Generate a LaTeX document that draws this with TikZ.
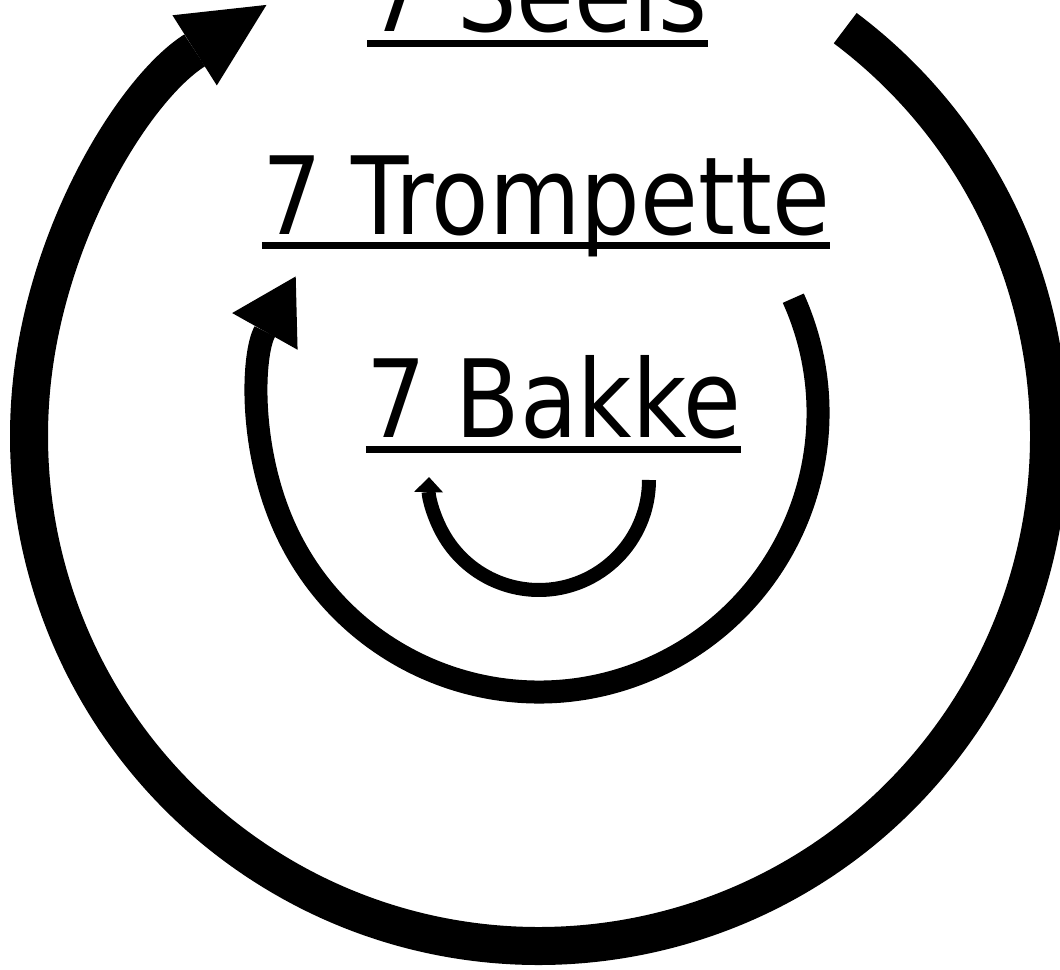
\documentclass[tikz,border=0pt]{standalone}
\usepackage{fontspec}
\setmainfont[FakeStretch=0.87]{DejaVu Sans}
\usetikzlibrary{arrows.meta}

\begin{document}
\begin{tikzpicture}[x=1pt,y=1pt,
  word/.style={inner sep=0pt,anchor=base,font=\fontsize{108}{130}\selectfont},
  uline/.style={line width=7pt}]
  \useasboundingbox (0,0) rectangle (1060,969);
  \draw[line width=38pt,-{Triangle[length=85pt,width=83pt,line width=0pt]}]
    (539,533) ++(53.1:510) arc[start angle=53.1,end angle=-237.7,radius=510];
  \draw[line width=23pt,-{Triangle[length=63pt,width=75pt,line width=0pt]}]
    (539,556) ++(24.3:279) arc[start angle=24.3,end angle=-209.3,radius=279];
  \draw[line width=14pt,-{Triangle[length=15pt,width=29pt,line width=0pt]}]
    (539,489) ++(0:110) arc[start angle=0,end angle=-181.5,radius=110];
  \node[word] (seels) at (537.5,937) {7 Seels};
  \node[word] (trompette) at (546,734) {7 Trompette};
  \node[word] (bakke) at (553.5,531) {7 Bakke};
  \draw[uline] ([yshift=-11.5pt]seels.base west) -- ([yshift=-11.5pt]seels.base east);
  \draw[uline] ([yshift=-11pt]trompette.base west) -- ([yshift=-11pt]trompette.base east);
  \draw[uline] ([yshift=-11.5pt]bakke.base west) -- ([yshift=-11.5pt]bakke.base east);
\end{tikzpicture}
\end{document}
